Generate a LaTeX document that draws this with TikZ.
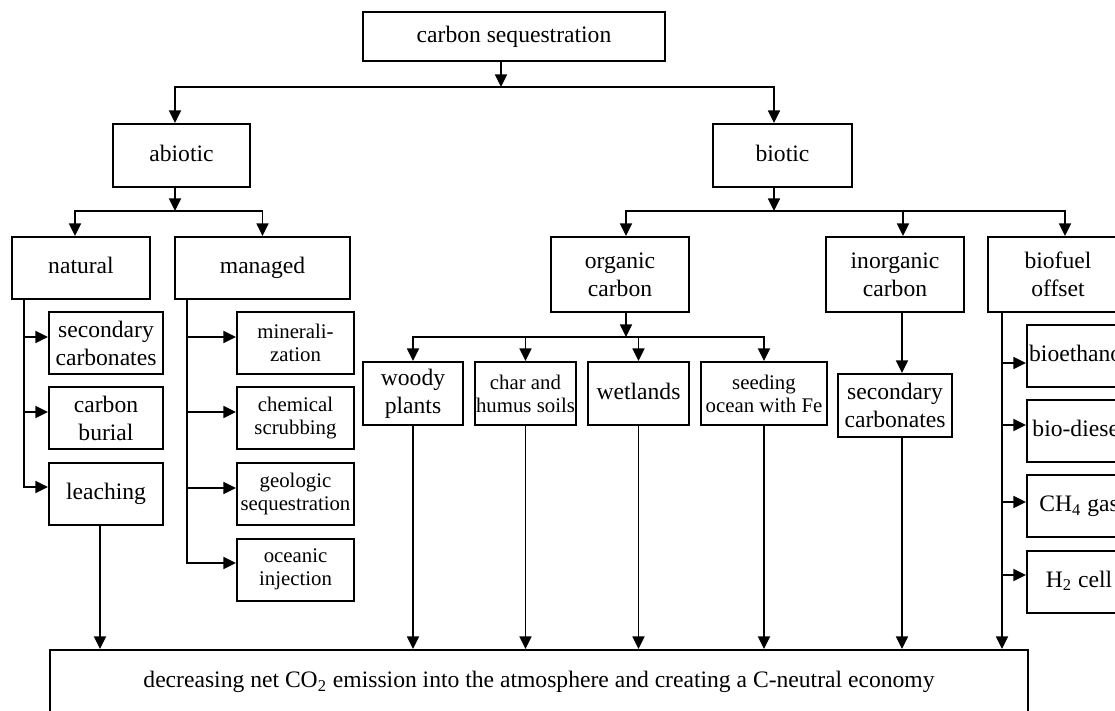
\documentclass[tikz,border=0pt]{standalone}
\usepackage{fontspec}
\setmainfont{Liberation Serif}
\usetikzlibrary{arrows.meta}
\newcommand{\grand}{\fontsize{11.8}{14}\selectfont}
\newcommand{\petit}{\fontsize{10.4}{11.5}\selectfont}
\begin{document}
\begin{tikzpicture}[x=0.5pt,y=-0.5pt]
 \tikzstyle{boite}=[draw,line width=1pt,align=center,inner sep=0pt,font=\grand]
 \tikzstyle{pboite}=[boite,font=\petit]
 \tikzstyle{uneligne}=[execute at begin node=\strut]
 \tikzstyle{fleche}=[-{Triangle[length=6.3pt,width=6pt]},line width=0.8pt]
 \useasboundingbox (0,0) rectangle (1115,711);
 \clip (0,0) rectangle (1115,711);
 % levels 1 and 2
 \node[boite,uneligne,minimum width=151pt,minimum height=24.5pt] (CS) at (514,36.5) {carbon sequestration};
 \node[boite,uneligne,minimum width=68.5pt,minimum height=31.5pt] (AB) at (181.5,155.5) {abiotic};
 \node[boite,uneligne,minimum width=69.5pt,minimum height=31.5pt] (BI) at (782.5,155.5) {biotic};
 % abiotic side
 \node[boite,uneligne,minimum width=69pt,minimum height=31pt] (NA) at (81,268) {natural};
 \node[boite,uneligne,minimum width=87.5pt,minimum height=31pt] (MA) at (262.5,268) {managed};
 \node[boite,minimum width=57pt,minimum height=31pt] (N1) at (106,343) {secondary\\carbonates};
 \node[boite,minimum width=57pt,minimum height=31pt] (N2) at (106,418) {carbon\\burial};
 \node[boite,uneligne,minimum width=57pt,minimum height=31pt] (N3) at (106,494) {leaching};
 \node[pboite,minimum width=58.5pt,minimum height=31pt] (M1) at (295.5,343) {minerali-\\zation};
 \node[pboite,minimum width=58.5pt,minimum height=31pt] (M2) at (295.5,418) {chemical\\scrubbing};
 \node[pboite,minimum width=58.5pt,minimum height=31pt] (M3) at (295.5,494) {geologic\\sequestration};
 \node[pboite,minimum width=58.5pt,minimum height=31pt] (M4) at (295.5,569.5) {oceanic\\injection};
 % biotic side
 \node[boite,minimum width=69pt,minimum height=37.5pt] (OC) at (620,274.5) {organic\\carbon};
 \node[boite,minimum width=69pt,minimum height=37.5pt] (IC) at (895,274.5) {inorganic\\carbon};
 \node[boite,minimum width=70pt,minimum height=37.5pt] (BF) at (1058,274.5) {biofuel\\offset};
 \node[boite,minimum width=50pt,minimum height=31.5pt] (O1) at (413,393.5) {woody\\plants};
 \node[pboite,minimum width=50.5pt,minimum height=31.5pt] (O2) at (525.5,393.5) {char and\\humus soils};
 \node[boite,uneligne,minimum width=50.5pt,minimum height=31.5pt] (O3) at (638.5,393.5) {wetlands};
 \node[pboite,minimum width=63pt,minimum height=31.5pt] (O4) at (764,393.5) {seeding\\ocean with Fe};
 \node[boite,minimum width=57pt,minimum height=31.5pt] (I1) at (895,405.5) {secondary\\carbonates};
 \node[boite,uneligne,minimum width=52pt,minimum height=31pt] (F1) at (1079,356) {bioethanol};
 \node[boite,uneligne,minimum width=52pt,minimum height=31pt] (F2) at (1079,431) {bio-diesel};
 \node[boite,uneligne,minimum width=52pt,minimum height=31pt] (F3) at (1079,506) {CH\textsubscript{4} gas};
 \node[boite,uneligne,minimum width=52pt,minimum height=31pt] (F4) at (1079,581.5) {H\textsubscript{2} cell};
 \node[boite,uneligne,minimum width=489pt,minimum height=32pt] (BOT) at (539,682) {decreasing net CO\textsubscript{2} emission into the atmosphere and creating a C-neutral economy};
 % junctions and rails
 \coordinate (c0) at (501,87);
 \coordinate (c1) at (175,211);
 \coordinate (c4) at (774,211);
 \coordinate (c5) at (626,337);
 \coordinate (rN) at (24,299);
 \coordinate (rM) at (187,299);
 \coordinate (rF) at (1002,312);
 \draw[fleche] (CS.south -| c0) -- (c0);
 \draw[fleche] (c0) -| ([xshift=-3.25pt]AB.north);
 \draw[fleche] (c0) -| ([xshift=-4.25pt]BI.north);
 \draw[fleche] (AB.south -| c1) -- (c1);
 \draw[fleche] (c1) -| ([xshift=-3pt]NA.north);
 \draw[fleche] (c1) -| (MA.north);
 \draw[fleche] (NA.south -| rN) |- ([yshift=3pt]N1.west);
 \draw[fleche] (NA.south -| rN) |- ([yshift=3pt]N2.west);
 \draw[fleche] (NA.south -| rN) |- ([yshift=3.5pt]N3.west);
 \draw[fleche] (MA.south -| rM) |- ([yshift=3pt]M1.west);
 \draw[fleche] (MA.south -| rM) |- ([yshift=3pt]M2.west);
 \draw[fleche] (MA.south -| rM) |- ([yshift=3pt]M3.west);
 \draw[fleche] (MA.south -| rM) |- ([yshift=3.25pt]M4.west);
 \draw[fleche] ([xshift=-3pt]N3.south) -- ([xshift=-3pt]N3.south |- BOT.north);
 \draw[fleche] (BI.south -| c4) -- (c4);
 \draw[fleche] (c4) -| ([xshift=3pt]OC.north);
 \draw[fleche] (c4) -| ([xshift=4pt]IC.north);
 \draw[fleche] (c4) -| ([xshift=3.5pt]BF.north);
 \draw[fleche] (OC.south -| c5) -- (c5);
 \draw[fleche] (c5) -| (O1.north);
 \draw[fleche] (c5) -| (O2.north);
 \draw[fleche] (c5) -| (O3.north);
 \draw[fleche] (c5) -| (O4.north);
 \draw[fleche] (O1) -- (O1 |- BOT.north);
 \draw[fleche] (O2) -- (O2 |- BOT.north);
 \draw[fleche] (O3) -- (O3 |- BOT.north);
 \draw[fleche] (O4) -- (O4 |- BOT.north);
 \draw[fleche] ([xshift=3.5pt]IC.south) -- ([xshift=3.5pt]I1.north);
 \draw[fleche] ([xshift=3.5pt]I1.south) -- ([xshift=3.5pt]I1.south |- BOT.north);
 \draw[fleche] (BF.south -| rF) |- ([yshift=-3.5pt]F1.west);
 \draw[fleche] (BF.south -| rF) |- ([yshift=3pt]F2.west);
 \draw[fleche] (BF.south -| rF) |- ([yshift=2pt]F3.west);
 \draw[fleche] (BF.south -| rF) |- ([yshift=3.25pt]F4.west);
 \draw[fleche] (BF.south -| rF) -- (rF |- BOT.north);
\end{tikzpicture}
\end{document}
